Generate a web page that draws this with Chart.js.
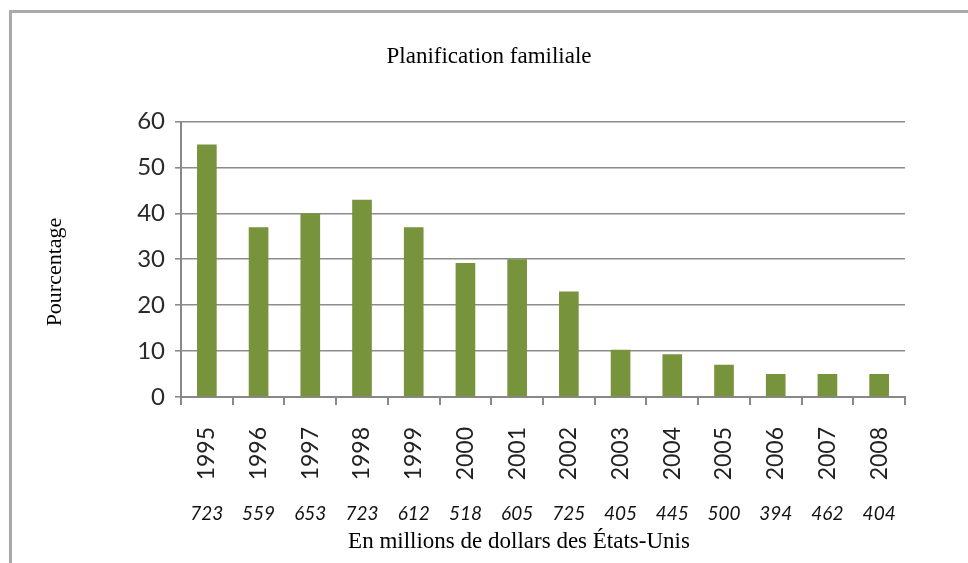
<!DOCTYPE html>
<html>
<head>
<meta charset="utf-8">
<script src="https://cdn.jsdelivr.net/npm/chart.js@4/dist/chart.umd.min.js"></script>
<style>
html,body{margin:0;padding:0;background:#fff;}
#wrap{position:relative;width:968px;height:563px;overflow:hidden;background:#fff;}
#frame{position:absolute;left:9px;top:10px;width:980px;height:580px;border-left:3px solid #a9a9a9;border-top:3px solid #a9a9a9;}
canvas{position:absolute;left:0;top:0;}
</style>
</head>
<body>
<div id="wrap"><div id="frame"></div><canvas id="c" width="968" height="563"></canvas></div>
<script>
// ---- data ----
const years = ['1995','1996','1997','1998','1999','2000','2001','2002','2003','2004','2005','2006','2007','2008'];
const percentages = [55, 37, 40, 43, 37, 29.2, 30, 23, 10.3, 9.3, 7, 5, 5, 5];
const amounts = ['723','559','653','723','612','518','605','725','405','445','500','394','462','404'];
const yMin = 0;
const yMax = 60;
const yStep = 10;
const chartTitle = 'Planification familiale';
const yTitle = 'Pourcentage';
const xTitle = 'En millions de dollars des États-Unis';

const sans = "Lato, 'Open Sans', sans-serif";
const serif = "'Liberation Serif', 'Times New Roman', serif";

// axis titles drawn as canvas text, placed relative to the frame of the figure
const axisTitles = {
  id: 'axisTitles',
  afterDraw(chart) {
    const ctx = chart.ctx;
    ctx.save();
    ctx.fillStyle = '#000';
    ctx.font = '23px ' + serif;
    ctx.textAlign = 'center';
    ctx.textBaseline = 'alphabetic';
    ctx.fillText(xTitle, 519, 548);
    ctx.translate(61, 272);
    ctx.rotate(-Math.PI / 2);
    ctx.font = '22px ' + serif;
    ctx.fillText(yTitle, 0, 0);
    ctx.restore();
  }
};

new Chart(document.getElementById('c'), {
  type: 'bar',
  data: {
    labels: years,
    datasets: [{
      data: percentages,
      backgroundColor: '#77933c',
      borderWidth: 0,
      barPercentage: 0.38,
      categoryPercentage: 1.0
    }]
  },
  plugins: [axisTitles],
  options: {
    responsive: false,
    devicePixelRatio: 1,
    animation: false,
    layout: { padding: { left: 10, right: 0, top: 0, bottom: 0 } },
    plugins: {
      legend: { display: false },
      tooltip: { enabled: false },
      title: {
        display: true,
        text: chartTitle,
        color: '#000',
        font: { family: serif, size: 23, weight: 'normal' },
        padding: { top: 43, bottom: 51 }
      }
    },
    scales: {
      y: {
        min: yMin, max: yMax,
        ticks: { stepSize: yStep, color: '#2a2a2a', padding: 10, font: { family: sans, size: 24 } },
        grid: { color: '#8c8c8c', lineWidth: 1.6, tickLength: 6, drawTicks: true },
        border: { display: true, color: '#888', width: 2 },
        afterFit: (s) => { s.width = 171; }
      },
      y2: {
        position: 'right',
        display: true,
        min: yMin, max: yMax,
        ticks: { display: false },
        grid: { display: false },
        border: { display: false },
        afterFit: (s) => { s.width = 63; }
      },
      x: {
        weight: 0,
        offset: true,
        ticks: { color: '#222', minRotation: 90, maxRotation: 90, autoSkip: false, padding: 22, font: { family: sans, size: 23 } },
        grid: { display: true, drawOnChartArea: false, drawTicks: true, tickLength: 8, color: '#888', lineWidth: 2, offset: true },
        border: { display: true, color: '#888', width: 2 },
        afterFit: (s) => { s.height = 90; }
      },
      x2: {
        type: 'category',
        position: 'bottom',
        weight: 1,
        offset: true,
        labels: amounts,
        ticks: { color: '#111', maxRotation: 0, autoSkip: false, padding: 7, font: { family: sans, size: 19, style: 'italic' } },
        grid: { display: false },
        border: { display: false },
        afterFit: (s) => { s.height = 76; }
      }
    }
  }
});
</script>
</body>
</html>
